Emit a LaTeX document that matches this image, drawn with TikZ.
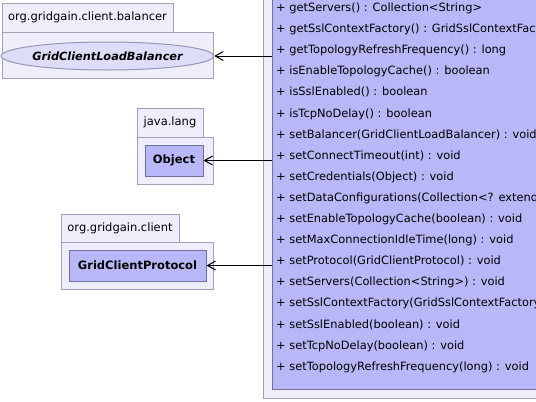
\documentclass[tikz,border=0pt]{standalone}
\usepackage{fontspec}
\setmainfont{DejaVu Sans}
\usetikzlibrary{shapes.geometric,arrows.meta}
\definecolor{pkgfill}{RGB}{238,238,251}
\definecolor{pkgline}{RGB}{160,160,184}
\definecolor{clsfill}{RGB}{184,184,248}
\definecolor{clsline}{RGB}{112,112,160}
\definecolor{ifcfill}{RGB}{221,221,248}
\definecolor{ifcline}{RGB}{150,150,185}
\tikzset{
  pkgbox/.style={draw=pkgline,fill=pkgfill,line width=1pt,inner sep=0pt,rectangle},
  clsbox/.style={draw=clsline,fill=clsfill,line width=1pt,inner sep=0pt,rectangle,font=\fontsize{11.5}{13}\selectfont\bfseries},
  ifcbox/.style={draw=ifcline,fill=ifcfill,line width=1pt,inner sep=0pt,ellipse,font=\fontsize{11.3}{13}\selectfont\bfseries\itshape},
  pkgtxt/.style={font=\fontsize{11.5}{13}\selectfont},
  member/.style={anchor=base west,inner sep=0pt,font=\fontsize{11.4}{13}\selectfont},
  dep/.style={line width=1pt,-{Straight Barb[length=8pt,width=9pt,line width=1pt]}}
}
\begin{document}
\begin{tikzpicture}[x=1pt,y=-1pt]
\useasboundingbox (0,0) rectangle (536,402);
\clip (0,0) rectangle (536,402);
% big package and class
\node[pkgbox,minimum width=290,minimum height=418] (bigpkg) at (408,189) {};
\node[clsbox,minimum width=280,minimum height=409] (cls) at (412,184.5) {};
\foreach \t [count=\i from 0] in {
 {+ getServers() : Collection<String>},
 {+ getSslContextFactory() : GridSslContextFactory},
 {+ getTopologyRefreshFrequency() : long},
 {+ isEnableTopologyCache() : boolean},
 {+ isSslEnabled() : boolean},
 {+ isTcpNoDelay() : boolean},
 {+ setBalancer(GridClientLoadBalancer) : void},
 {+ setConnectTimeout(int) : void},
 {+ setCredentials(Object) : void},
 {+ setDataConfigurations(Collection<? extends},
 {+ setEnableTopologyCache(boolean) : void},
 {+ setMaxConnectionIdleTime(long) : void},
 {+ setProtocol(GridClientProtocol) : void},
 {+ setServers(Collection<String>) : void},
 {+ setSslContextFactory(GridSslContextFactory)},
 {+ setSslEnabled(boolean) : void},
 {+ setTcpNoDelay(boolean) : void},
 {+ setTopologyRefreshFrequency(long) : void}}
 \node[member] (m\i) at (276,{11.5+21.1*\i}) {\t};
% package balancer
\node[pkgbox,pkgtxt,minimum width=171,minimum height=29] (tab1) at (87.5,17.5) {org.gridgain.client.balancer};
\node[pkgbox,minimum width=211,minimum height=46] (body1) at (107.5,55) {};
\node[ifcbox,minimum width=197,minimum height=28] (lb) at (107.5,56) {GridClientLoadBalancer};
% package java.lang
\node[pkgbox,pkgtxt,minimum width=66,minimum height=29] (tab2) at (170,122.5) {java.lang};
\node[pkgbox,minimum width=76,minimum height=47] (body2) at (175,160.5) {};
\node[clsbox,minimum width=58,minimum height=31] (obj) at (174,160.5) {Object};
% package client
\node[pkgbox,pkgtxt,minimum width=118,minimum height=28] (tab3) at (120,228) {org.gridgain.client};
\node[pkgbox,minimum width=152,minimum height=47] (body3) at (137,265.5) {};
\node[clsbox,minimum width=137,minimum height=31] (proto) at (137.5,265.5) {GridClientProtocol};
% dependencies
\draw[dep] (lb.east -| cls.west) -- (lb.east);
\draw[dep] (obj.east -| cls.west) -- (obj.east);
\draw[dep] (proto.east -| cls.west) -- (proto.east);
\end{tikzpicture}
\end{document}
